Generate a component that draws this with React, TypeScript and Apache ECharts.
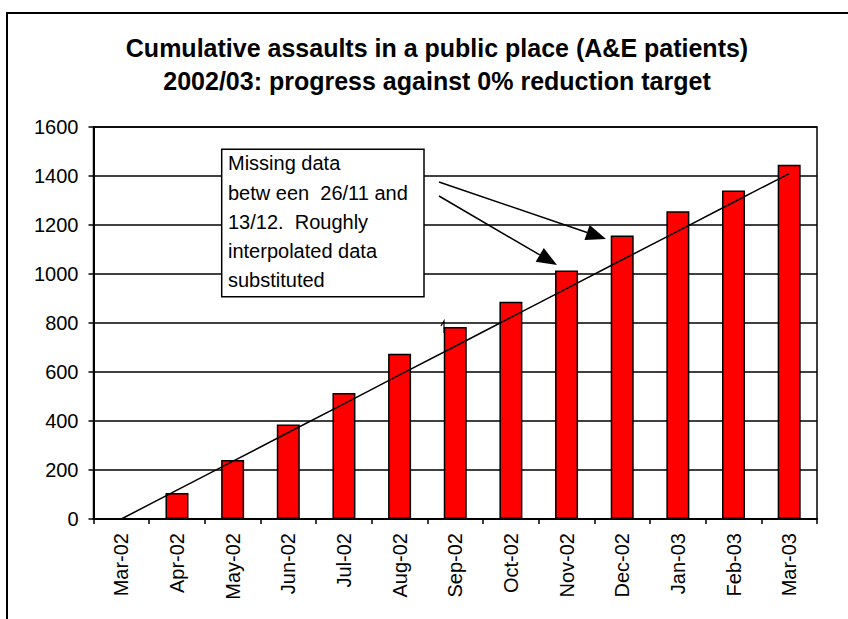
import React, { useEffect, useRef } from "react";
import * as echarts from "echarts";

const titleLines = [
  "Cumulative assaults in a public place (A&E patients)",
  "2002/03: progress against 0% reduction target",
];
const categories = [
  "Mar-02", "Apr-02", "May-02", "Jun-02", "Jul-02", "Aug-02", "Sep-02",
  "Oct-02", "Nov-02", "Dec-02", "Jan-03", "Feb-03", "Mar-03",
];
const actualCumulative = [0, 106, 241, 386, 514, 674, 784, 887, 1014, 1157, 1256, 1341, 1446];
const targetCumulative = [0, 118, 235, 353, 470, 588, 705, 823, 940, 1058, 1175, 1293, 1410];
const noteLines = [
  "Missing data",
  "betw een  26/11 and",
  "13/12.  Roughly",
  "interpolated data",
  "substituted",
];

const FONT = "'Liberation Sans', Arial, Helvetica, sans-serif";

function arrow(x1: number, y1: number, x2: number, y2: number) {
  const len = 20;
  const half = 8;
  const dx = x2 - x1;
  const dy = y2 - y1;
  const d = Math.sqrt(dx * dx + dy * dy);
  const ux = dx / d;
  const uy = dy / d;
  const bx = x2 - ux * len;
  const by = y2 - uy * len;
  return [
    {
      type: "line",
      shape: { x1, y1, x2: bx, y2: by },
      style: { stroke: "#000", lineWidth: 1.5 },
      z: 20,
    },
    {
      type: "polygon",
      shape: {
        points: [
          [x2, y2],
          [bx - uy * half, by + ux * half],
          [bx + uy * half, by - ux * half],
        ],
      },
      style: { fill: "#000" },
      z: 20,
    },
  ];
}

export default function App() {
  const ref = useRef<HTMLDivElement>(null);

  useEffect(() => {
    if (!ref.current) return;
    const chart = echarts.init(ref.current, undefined, { renderer: "svg" });
    const option: any = {
      animation: false,
      backgroundColor: "#fff",
      title: {
        text: titleLines.join("\n"),
        left: 432,
        top: 26,
        textAlign: "center",
        textStyle: {
          fontFamily: FONT,
          fontSize: 25,
          fontWeight: "bold",
          color: "#000",
          lineHeight: 33,
        },
      },
      grid: {
        left: 93.5,
        right: 31,
        top: 127,
        bottom: 100,
        show: true,
        borderColor: "#000",
        borderWidth: 1.5,
        containLabel: false,
      },
      xAxis: {
        type: "category",
        data: categories,
        boundaryGap: true,
        axisLine: { show: true, lineStyle: { color: "#000", width: 2 } },
        axisTick: { show: true, length: 5, lineStyle: { color: "#000", width: 1.5 } },
        axisLabel: {
          rotate: 90,
          margin: 14,
          fontFamily: FONT,
          fontSize: 20,
          color: "#000",
          interval: 0,
        },
        splitLine: { show: false },
      },
      yAxis: {
        type: "value",
        min: 0,
        max: 1600,
        interval: 200,
        axisLine: { show: true, lineStyle: { color: "#000", width: 2 } },
        axisTick: { show: true, length: 5, lineStyle: { color: "#000", width: 1.5 } },
        axisLabel: {
          margin: 15,
          fontFamily: FONT,
          fontSize: 20,
          color: "#000",
          formatter: (v: number) => String(v),
        },
        splitLine: { show: true, lineStyle: { color: "#000", width: 1.5 } },
      },
      series: [
        {
          name: "Actual",
          type: "bar",
          data: actualCumulative,
          barWidth: 23,
          itemStyle: { color: "#FF0000", borderColor: "#000", borderWidth: 1.5 },
          z: 2,
        },
        {
          name: "Target",
          type: "line",
          data: targetCumulative,
          symbol: "none",
          lineStyle: { color: "#000", width: 1.5 },
          z: 3,
        },
      ],
      graphic: [
        {
          type: "rect",
          shape: { x: 7, y: 13, width: 1000, height: 800 },
          style: { fill: "none", stroke: "#000", lineWidth: 2 },
          z: 30,
          silent: true,
        },
        {
          type: "rect",
          shape: { x: 221.7, y: 149.3, width: 202.3, height: 147.4 },
          style: { fill: "#fff", stroke: "#000", lineWidth: 1.5 },
          z: 15,
        },
        {
          type: "text",
          x: 228,
          y: 148.6,
          style: {
            text: noteLines.join("\n"),
            fontFamily: FONT,
            fontSize: 20,
            lineHeight: 29.3,
            fill: "#000",
            textAlign: "left",
            textVerticalAlign: "top",
          },
          z: 16,
        },
        ...arrow(439, 182, 606, 239),
        ...arrow(439, 196, 557, 265),
        {
          type: "polyline",
          shape: { points: [[441, 326], [444, 321], [444, 333]] },
          style: { stroke: "#000", lineWidth: 1.2, fill: "none" },
          z: 20,
        },
      ],
    };
    chart.setOption(option);
    return () => chart.dispose();
  }, []);

  return (
    <div
      ref={ref}
      style={{ position: "fixed", left: 0, top: 0, width: 848, height: 619 }}
    />
  );
}
